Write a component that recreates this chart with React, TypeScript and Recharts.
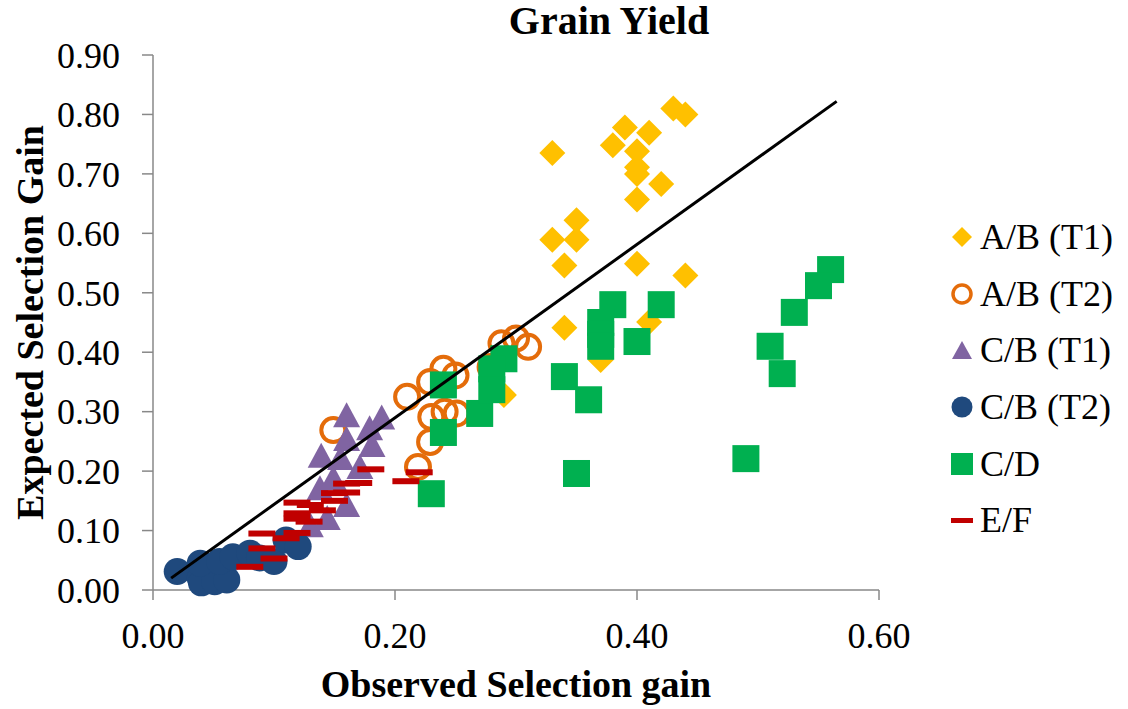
import React from 'react';
import { ScatterChart, Scatter, XAxis, YAxis, Label } from 'recharts';

// A/B (T1)
const abT1X = [0.33, 0.39, 0.41, 0.38, 0.4, 0.43, 0.44, 0.4, 0.4, 0.42, 0.4, 0.35, 0.33, 0.35, 0.34, 0.4, 0.44, 0.34, 0.41, 0.37, 0.29];
const abT1Y = [0.735, 0.778, 0.769, 0.748, 0.738, 0.81, 0.8, 0.711, 0.7, 0.683, 0.657, 0.622, 0.589, 0.589, 0.546, 0.549, 0.529, 0.441, 0.451, 0.387, 0.328];

// A/B (T2)
const abT2X = [0.149, 0.21, 0.229, 0.24, 0.25, 0.23, 0.241, 0.251, 0.229, 0.219, 0.288, 0.3, 0.31, 0.279];
const abT2Y = [0.269, 0.325, 0.35, 0.372, 0.361, 0.291, 0.3, 0.297, 0.249, 0.207, 0.415, 0.423, 0.409, 0.375];

// C/B (T1)
const cbT1X = [0.16, 0.189, 0.179, 0.16, 0.139, 0.181, 0.155, 0.171, 0.138, 0.149, 0.16, 0.13, 0.144];
const cbT1Y = [0.294, 0.29, 0.272, 0.254, 0.226, 0.244, 0.222, 0.207, 0.171, 0.188, 0.143, 0.109, 0.121];

// C/B (T2)
const cbT2X = [0.02, 0.039, 0.04, 0.051, 0.061, 0.039, 0.055, 0.066, 0.08, 0.088, 0.1, 0.11, 0.12];
const cbT2Y = [0.031, 0.02, 0.012, 0.014, 0.017, 0.045, 0.048, 0.056, 0.062, 0.054, 0.048, 0.084, 0.073];

// C/D
const cdX = [0.56, 0.55, 0.53, 0.51, 0.52, 0.49, 0.38, 0.42, 0.37, 0.37, 0.37, 0.4, 0.34, 0.36, 0.35, 0.24, 0.24, 0.23, 0.27, 0.29, 0.28, 0.28];
const cdY = [0.539, 0.512, 0.467, 0.41, 0.364, 0.221, 0.48, 0.48, 0.45, 0.43, 0.41, 0.418, 0.359, 0.32, 0.196, 0.345, 0.265, 0.162, 0.297, 0.389, 0.372, 0.337];

// E/F
const efX = [0.18, 0.22, 0.209, 0.16, 0.17, 0.15, 0.16, 0.15, 0.119, 0.13, 0.14, 0.119, 0.119, 0.129, 0.09, 0.119, 0.11, 0.09, 0.1, 0.08];
const efY = [0.203, 0.198, 0.183, 0.179, 0.18, 0.163, 0.164, 0.15, 0.147, 0.143, 0.134, 0.129, 0.12, 0.115, 0.095, 0.096, 0.087, 0.07, 0.053, 0.039];

// fitted line end points
const fitX = [0.015, 0.565];
const fitY = [0.02, 0.822];

const xTicks = [0, 0.2, 0.4, 0.6];
const yTicks = [0, 0.1, 0.2, 0.3, 0.4, 0.5, 0.6, 0.7, 0.8, 0.9];

const toPoints = (xs: number[], ys: number[]) => xs.map((x, i) => ({ x, y: ys[i] }));

const FONT = '"Liberation Serif", "Times New Roman", serif';
const AXIS_GREY = '#888888';

const YELLOW = '#FFC000';
const ORANGE = '#E46C0A';
const PURPLE = '#8064A2';
const NAVY = '#1F497D';
const GREEN = '#00B050';
const RED = '#C00000';

const Diamond = ({ cx, cy }: any) => (
  <polygon points={`${cx},${cy - 13} ${cx + 13},${cy} ${cx},${cy + 13} ${cx - 13},${cy}`} fill={YELLOW} />
);
const OpenCircle = ({ cx, cy }: any) => (
  <circle cx={cx} cy={cy} r={12} fill="none" stroke={ORANGE} strokeWidth={4} />
);
const Triangle = ({ cx, cy }: any) => (
  <polygon points={`${cx},${cy - 13} ${cx + 13.5},${cy + 12} ${cx - 13.5},${cy + 12}`} fill={PURPLE} />
);
const Dot = ({ cx, cy }: any) => <circle cx={cx} cy={cy} r={13.5} fill={NAVY} />;
const Square = ({ cx, cy }: any) => <rect x={cx - 13.5} y={cy - 13.5} width={27} height={27} fill={GREEN} />;
const Dash = ({ cx, cy }: any) => <rect x={cx - 13.5} y={cy - 3} width={27} height={6} fill={RED} />;
const Nothing = () => <g />;

const legendItems = [
  { name: 'A/B (T1)', icon: <polygon points="11,1 21,11 11,21 1,11" fill={YELLOW} /> },
  { name: 'A/B (T2)', icon: <circle cx={11} cy={11} r={9} fill="none" stroke={ORANGE} strokeWidth={3.5} /> },
  { name: 'C/B (T1)', icon: <polygon points="11,2 21,20 1,20" fill={PURPLE} /> },
  { name: 'C/B (T2)', icon: <circle cx={11} cy={11} r={10.5} fill={NAVY} /> },
  { name: 'C/D', icon: <rect x={0} y={0} width={22} height={22} fill={GREEN} /> },
  { name: 'E/F', icon: <rect x={0} y={9} width={22} height={5} fill={RED} /> },
];
const legendCenters = [236.5, 293.5, 350, 406.5, 463.5, 519.5];

const tickStyle = { fontFamily: FONT, fontSize: 36, fill: '#000' };
const fmt = (v: number) => v.toFixed(2);

export default function App() {
  return (
    <div style={{ position: 'absolute', left: 0, top: 0, width: 1128, height: 709, background: '#fff', fontFamily: FONT }}>
      <div
        style={{
          position: 'absolute',
          top: 0,
          left: 409,
          width: 400,
          textAlign: 'center',
          fontFamily: FONT,
          fontSize: 40,
          lineHeight: '42px',
          fontWeight: 'bold',
        }}
      >
        Grain Yield
      </div>
      <ScatterChart width={1128} height={709} margin={{ top: 55, right: 249, bottom: 0, left: 0 }}>
        <XAxis
          type="number"
          dataKey="x"
          domain={[0, 0.6]}
          ticks={xTicks}
          tickFormatter={fmt}
          height={119}
          tickSize={10}
          tickMargin={22}
          tick={tickStyle}
          stroke={AXIS_GREY}
          strokeWidth={1.5}
        >
          <Label
            value="Observed Selection gain"
            position="insideBottom"
            offset={12}
            style={{ fontFamily: FONT, fontSize: 38, fontWeight: 'bold', fill: '#000' }}
          />
        </XAxis>
        <YAxis
          type="number"
          dataKey="y"
          domain={[0, 0.9]}
          ticks={yTicks}
          tickFormatter={fmt}
          width={153}
          tickSize={11}
          tickMargin={22}
          tick={tickStyle}
          stroke={AXIS_GREY}
          strokeWidth={1.5}
        >
          <Label
            value="Expected Selection Gain"
            position="insideLeft"
            angle={-90}
            offset={30}
            style={{ fontFamily: FONT, fontSize: 38, fontWeight: 'bold', fill: '#000', textAnchor: 'middle' }}
          />
        </YAxis>
        <Scatter name="A/B (T1)" data={toPoints(abT1X, abT1Y)} shape={Diamond} isAnimationActive={false} />
        <Scatter name="A/B (T2)" data={toPoints(abT2X, abT2Y)} shape={OpenCircle} isAnimationActive={false} />
        <Scatter name="C/B (T1)" data={toPoints(cbT1X, cbT1Y)} shape={Triangle} isAnimationActive={false} />
        <Scatter name="C/B (T2)" data={toPoints(cbT2X, cbT2Y)} shape={Dot} isAnimationActive={false} />
        <Scatter name="C/D" data={toPoints(cdX, cdY)} shape={Square} isAnimationActive={false} />
        <Scatter name="E/F" data={toPoints(efX, efY)} shape={Dash} isAnimationActive={false} />
        <Scatter
          name="fit"
          data={toPoints(fitX, fitY)}
          shape={Nothing}
          line={{ stroke: '#000', strokeWidth: 3 }}
          legendType="none"
          isAnimationActive={false}
        />
      </ScatterChart>
      {legendItems.map((item, i) => (
        <div key={item.name} style={{ position: 'absolute', left: 951, top: legendCenters[i] - 18, height: 36 }}>
          <svg width={22} height={22} style={{ position: 'absolute', left: 0, top: 7 }}>
            {item.icon}
          </svg>
          <span
            style={{
              position: 'absolute',
              left: 29,
              top: 0,
              fontFamily: FONT,
              fontSize: 36,
              lineHeight: '36px',
              whiteSpace: 'nowrap',
            }}
          >
            {item.name}
          </span>
        </div>
      ))}
    </div>
  );
}
